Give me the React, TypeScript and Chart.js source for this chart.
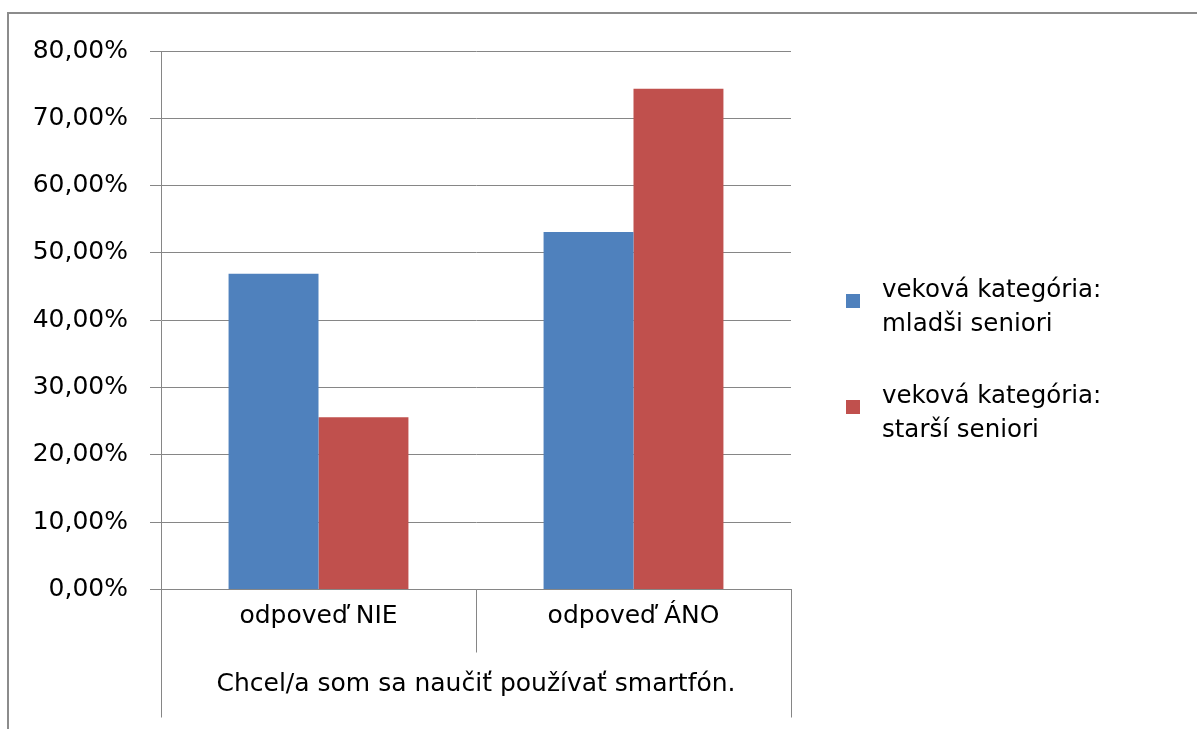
import React, { useEffect, useRef } from "react";
import { Chart, registerables } from "chart.js";

Chart.register(...registerables);

// ---- data ----
const categories: string[] = ["odpoveď NIE", "odpoveď ÁNO"];
const groupLabel = "Chcel/a som sa naučiť používať smartfón.";
const seriesLabels: string[][] = [
  ["veková kategória:", "mladši seniori"],
  ["veková kategória:", "starší seniori"],
];
const mladsiSeniori: number[] = [46.9, 53.1];
const starsiSeniori: number[] = [25.6, 74.4];
const yMin = 0;
const yMax = 80;
const yStep = 10;

// ---- style ----
const FONT = '"DejaVu Sans", Verdana, sans-serif';
const BLUE = "#4F81BD";
const RED = "#C0504D";
const GRID = "#868686";

const formatPct = (v: number) => v.toFixed(2).replace(".", ",") + "%";

const multiLevelPlugin = {
  id: "multiLevel",
  afterDraw(chart: any) {
    const xs = chart.scales.x;
    const ctx = chart.ctx;
    const n = categories.length;
    ctx.save();
    ctx.strokeStyle = GRID;
    ctx.lineWidth = 1;
    const bottom = chart.chartArea.bottom;
    for (let i = 0; i <= n; i++) {
      let px: number;
      if (i === 0) px = xs.left;
      else if (i === n) px = xs.right;
      else px = (xs.getPixelForTick(i - 1) + xs.getPixelForTick(i)) / 2;
      const len = i === 0 || i === n ? 128 : 63;
      ctx.beginPath();
      ctx.moveTo(Math.round(px) + 0.5, bottom);
      ctx.lineTo(Math.round(px) + 0.5, bottom + len);
      ctx.stroke();
    }
    ctx.restore();
  },
};

const sideLegendPlugin = {
  id: "sideLegend",
  afterDraw(chart: any) {
    const ctx = chart.ctx;
    ctx.save();
    ctx.font = `24.5px ${FONT}`;
    ctx.textBaseline = "alphabetic";
    ctx.textAlign = "left";
    chart.data.datasets.forEach((ds: any, i: number) => {
      const base = 297 + i * 106;
      ctx.fillStyle = ds.backgroundColor;
      ctx.fillRect(846, base + 4 - 7, 14, 14);
      ctx.fillStyle = "#000";
      const lines: string[] = ds.legendLines;
      lines.forEach((t, j) => ctx.fillText(t, 882, base + j * 33.5));
    });
    ctx.restore();
  },
};

export default function App() {
  const ref = useRef<HTMLCanvasElement | null>(null);

  useEffect(() => {
    if (!ref.current) return;
    const chart = new Chart(ref.current, {
      type: "bar",
      data: {
        labels: categories,
        datasets: [
          {
            label: seriesLabels[0].join(" "),
            legendLines: seriesLabels[0],
            data: mladsiSeniori,
            backgroundColor: BLUE,
            borderWidth: 0,
            barPercentage: 1,
            categoryPercentage: 0.571,
          } as any,
          {
            label: seriesLabels[1].join(" "),
            legendLines: seriesLabels[1],
            data: starsiSeniori,
            backgroundColor: RED,
            borderWidth: 0,
            barPercentage: 1,
            categoryPercentage: 0.571,
          } as any,
        ],
      },
      options: {
        responsive: false,
        animation: false,
        devicePixelRatio: 1,
        layout: { padding: { top: 51, left: 0, right: 406, bottom: 0 } },
        plugins: {
          legend: { display: false },
          tooltip: { enabled: false },
          title: { display: false },
        },
        scales: {
          x: {
            grid: { display: true, drawOnChartArea: false, drawTicks: false },
            border: { display: true, color: GRID, width: 1 },
            ticks: {
              color: "#000",
              font: { family: FONT, size: 25 },
              padding: 12,
              maxRotation: 0,
              autoSkip: false,
            },
            title: {
              display: true,
              text: groupLabel,
              color: "#000",
              font: { family: FONT, size: 25 },
              padding: { top: 0, bottom: 30 },
            },
            afterFit(scale: any) {
              scale.height = 729 - 589.5;
            },
          },
          y: {
            min: yMin,
            max: yMax,
            ticks: {
              stepSize: yStep,
              color: "#000",
              font: { family: FONT, size: 25 },
              padding: 22,
              callback: (v: any) => formatPct(Number(v)),
            },
            grid: { color: GRID, lineWidth: 1, drawTicks: true, tickLength: 11 },
            border: { display: true, color: GRID, width: 1 },
            afterFit(scale: any) {
              scale.width = 161;
            },
          },
        },
      },
      plugins: [multiLevelPlugin, sideLegendPlugin],
    });
    return () => chart.destroy();
  }, []);

  return (
    <div
      style={{
        position: "fixed",
        left: 0,
        top: 0,
        width: 1197,
        height: 729,
        overflow: "hidden",
        background: "#fff",
      }}
    >
      <div
        style={{
          position: "absolute",
          left: 7,
          top: 12,
          width: 1300,
          height: 900,
          borderTop: "2px solid #8c8c8c",
          borderLeft: "2px solid #8c8c8c",
        }}
      />
      <canvas
        ref={ref}
        width={1197}
        height={729}
        style={{ position: "absolute", left: 0, top: 0, width: 1197, height: 729 }}
      />
    </div>
  );
}
